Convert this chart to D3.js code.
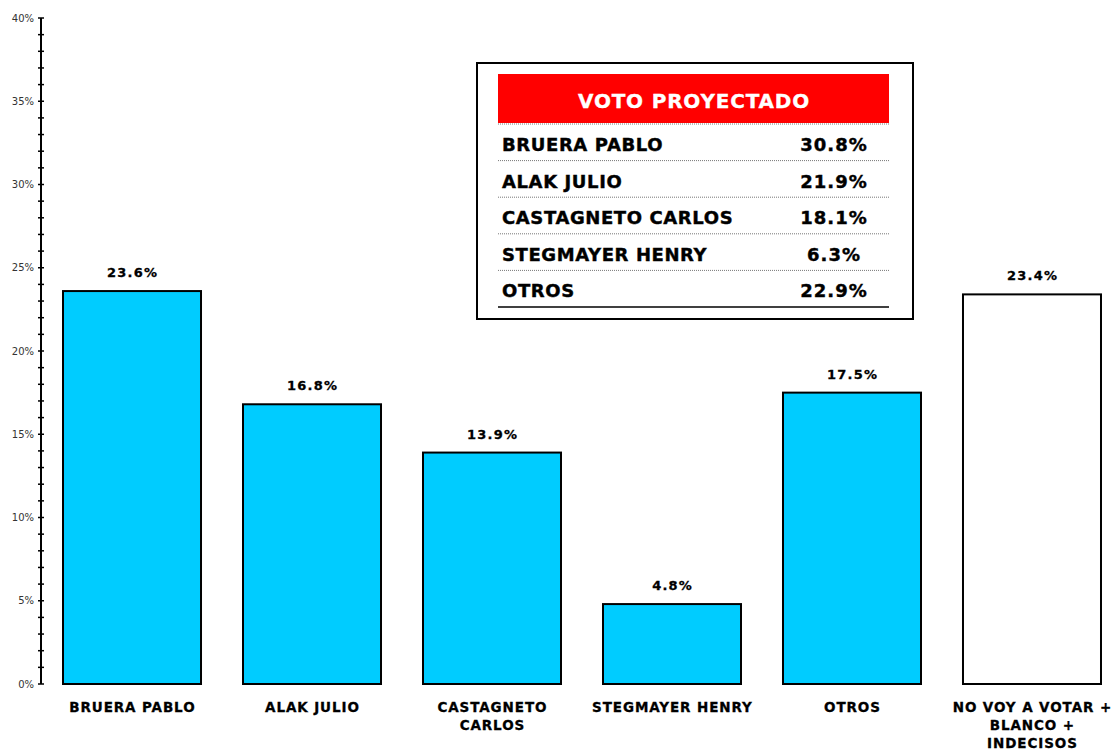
<!DOCTYPE html>
<html>
<head>
<meta charset="utf-8">
<script src="https://cdn.jsdelivr.net/npm/d3@7"></script>
<style>
  body { margin: 0; background: #fff; }
  svg { display: block; font-family: "DejaVu Sans", sans-serif; }
</style>
</head>
<body>
<svg id="chart" width="1112" height="753"></svg>
<script>
// datos del grafico
var categories = ['BRUERA PABLO', 'ALAK JULIO', 'CASTAGNETO CARLOS', 'STEGMAYER HENRY', 'OTROS', 'NO VOY A VOTAR + BLANCO + INDECISOS'];
var catLines = [['BRUERA PABLO'], ['ALAK JULIO'], ['CASTAGNETO', 'CARLOS'], ['STEGMAYER HENRY'], ['OTROS'], ['NO VOY A VOTAR +', 'BLANCO +', 'INDECISOS']];
var values = [23.6, 16.8, 13.9, 4.8, 17.5, 23.4];
var barColors = ['#00ccff', '#00ccff', '#00ccff', '#00ccff', '#00ccff', '#ffffff'];
var yTicks = [0, 5, 10, 15, 20, 25, 30, 35, 40];

var tableTitle = 'VOTO PROYECTADO';
var tableNames = ['BRUERA PABLO', 'ALAK JULIO', 'CASTAGNETO CARLOS', 'STEGMAYER HENRY', 'OTROS'];
var tableValues = [30.8, 21.9, 18.1, 6.3, 22.9];

var svg = d3.select('#chart');

var x = d3.scaleBand().domain(categories).range([42, 1122]).paddingInner(0.2333).paddingOuter(0.1167);
var y = d3.scaleLinear().domain([0, 40]).range([684, 18]);

// eje y
var gy = svg.append('g');
gy.append('line').attr('x1', 41).attr('x2', 41).attr('y1', y(40)).attr('y2', y(0))
    .attr('stroke', '#000').attr('stroke-width', 2);
gy.selectAll('.minor').data(d3.range(0, 41)).enter().append('line')
    .attr('x1', 38).attr('x2', 44)
    .attr('y1', function (d) { return y(d); }).attr('y2', function (d) { return y(d); })
    .attr('stroke', '#000').attr('stroke-width', 1.5);
gy.selectAll('.lbl').data(yTicks).enter().append('text')
    .attr('x', 34).attr('y', function (d) { return y(d) + 3.5; })
    .attr('text-anchor', 'end').attr('font-size', 10).attr('fill', '#333')
    .text(function (d) { return d + '%'; });

// barras
svg.selectAll('.bar').data(values).enter().append('rect')
    .attr('x', function (d, i) { return x(categories[i]); })
    .attr('y', function (d) { return y(d); })
    .attr('width', x.bandwidth())
    .attr('height', function (d) { return y(0) - y(d); })
    .attr('fill', function (d, i) { return barColors[i]; })
    .attr('stroke', '#000').attr('stroke-width', 2);

svg.selectAll('.val').data(values).enter().append('text')
    .attr('x', function (d, i) { return x(categories[i]) + x.bandwidth() / 2 + 0.6; })
    .attr('y', function (d) { return y(d) - 14; })
    .attr('text-anchor', 'middle').attr('font-size', 13).attr('font-weight', 'bold')
    .attr('letter-spacing', 1.2).attr('stroke', '#000').attr('stroke-width', 0.3)
    .text(function (d) { return d.toFixed(1) + '%'; });

// etiquetas de categorias
var cat = svg.selectAll('.cat').data(catLines).enter().append('text')
    .attr('text-anchor', 'middle').attr('font-size', 13.5).attr('font-weight', 'bold')
    .attr('letter-spacing', 0.9).attr('stroke', '#000').attr('stroke-width', 0.3)
    .attr('transform', function (d, i) { return 'translate(' + (x(categories[i]) + x.bandwidth() / 2 + 0.4) + ',712)'; });
cat.selectAll('tspan').data(function (d) { return d; }).enter().append('tspan')
    .attr('x', 0).attr('y', function (d, j) { return j * 18; })
    .text(function (d) { return d; });

// tabla voto proyectado
var tb = svg.append('g');
tb.append('rect').attr('x', 477).attr('y', 63).attr('width', 436).attr('height', 256)
    .attr('fill', '#fff').attr('stroke', '#000').attr('stroke-width', 2);
tb.append('rect').attr('x', 498).attr('y', 74).attr('width', 391).attr('height', 49).attr('fill', '#ff0000');
tb.append('text').attr('x', 694).attr('y', 108).attr('text-anchor', 'middle')
    .attr('font-size', 20).attr('font-weight', 'bold').attr('fill', '#fff')
    .attr('letter-spacing', 0.8).attr('stroke', '#fff').attr('stroke-width', 0.3)
    .text(tableTitle);

var rowY = d3.scaleLinear().domain([0, 5]).range([124, 307]);
tb.selectAll('.sep').data(d3.range(0, 6)).enter().append('line')
    .attr('x1', 498).attr('x2', 889)
    .attr('y1', function (d) { return rowY(d); }).attr('y2', function (d) { return rowY(d); })
    .attr('stroke', function (d) { return d === 5 ? '#000' : '#777'; })
    .attr('stroke-width', function (d) { return d === 5 ? 1.5 : 1; })
    .attr('stroke-dasharray', function (d) { return d === 5 ? null : '1,1'; });
tb.selectAll('.tn').data(tableNames).enter().append('text')
    .attr('x', 502).attr('y', function (d, i) { return rowY(i) + 27; })
    .attr('font-size', 18).attr('font-weight', 'bold')
    .attr('letter-spacing', 0.6).attr('stroke', '#000').attr('stroke-width', 0.4)
    .text(function (d) { return d; });
tb.selectAll('.tv').data(tableValues).enter().append('text')
    .attr('x', 834).attr('y', function (d, i) { return rowY(i) + 27; })
    .attr('text-anchor', 'middle')
    .attr('font-size', 18).attr('font-weight', 'bold')
    .attr('letter-spacing', 1).attr('stroke', '#000').attr('stroke-width', 0.4)
    .text(function (d) { return d.toFixed(1) + '%'; });
</script>
</body>
</html>
